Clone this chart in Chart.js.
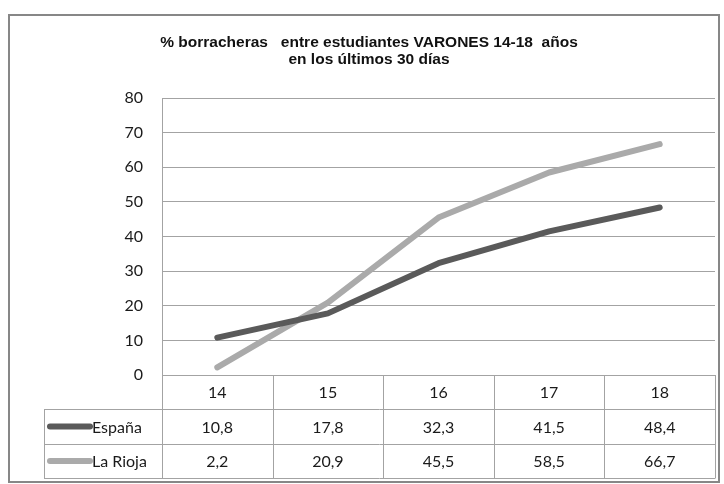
<!DOCTYPE html>
<html lang="es">
<head>
  <meta charset="UTF-8">
  <title>% borracheras entre estudiantes VARONES 14-18 años</title>
  <script src="https://cdn.jsdelivr.net/npm/chart.js"></script>
  <style>
    html, body { margin: 0; padding: 0; background: #fff; }
  </style>
</head>
<body>
  <canvas id="chart" width="724" height="484"></canvas>

  <script>
    // data
    const edades = ['14', '15', '16', '17', '18'];
    const espana = [10.8, 17.8, 32.3, 41.5, 48.4];
    const laRioja = [2.2, 20.9, 45.5, 58.5, 66.7];
    const titulo = ['% borracheras   entre estudiantes VARONES 14-18  años', 'en los últimos 30 días'];

    const gridColor = '#a3a3a3';
    const textFont = '16px Lato, "Open Sans", sans-serif';

    const fmt = v => v.toFixed(1).replace('.', ',');

    // outer frame of the chart
    const framePlugin = {
      id: 'frame',
      beforeDraw(chart) {
        const ctx = chart.ctx;
        ctx.save();
        ctx.strokeStyle = '#878787';
        ctx.lineWidth = 2;
        ctx.strokeRect(9, 15, 710, 467);
        ctx.restore();
      }
    };

    // data table under the plot, aligned to the x scale
    const tablePlugin = {
      id: 'dataTable',
      afterDraw(chart) {
        const ctx = chart.ctx;
        const x = chart.scales.x;
        const area = chart.chartArea;
        const top = area.bottom;
        const rowH = 34.4;
        const colW = x.getPixelForValue(1) - x.getPixelForValue(0);
        const tableLeft = 44;
        const rows = [
          { label: 'España', color: chart.data.datasets[0].borderColor, values: chart.data.datasets[0].data },
          { label: 'La Rioja', color: chart.data.datasets[1].borderColor, values: chart.data.datasets[1].data }
        ];

        ctx.save();
        ctx.strokeStyle = gridColor;
        ctx.lineWidth = 1;

        // horizontal rules
        for (let r = 1; r <= rows.length + 1; r++) {
          const y = Math.round(top + r * rowH) + 0.5;
          ctx.beginPath();
          ctx.moveTo(tableLeft, y);
          ctx.lineTo(area.right, y);
          ctx.stroke();
        }
        // vertical rules
        const bottom = Math.round(top + (rows.length + 1) * rowH) + 0.5;
        for (let i = 0; i <= edades.length; i++) {
          const xx = Math.round(x.getPixelForValue(i) - colW / 2) + 0.5;
          ctx.beginPath();
          ctx.moveTo(xx, top);
          ctx.lineTo(xx, bottom);
          ctx.stroke();
        }
        ctx.beginPath();
        ctx.moveTo(tableLeft + 0.5, Math.round(top + rowH) + 0.5);
        ctx.lineTo(tableLeft + 0.5, bottom);
        ctx.stroke();

        ctx.font = textFont;
        ctx.fillStyle = '#1a1a1a';
        ctx.textBaseline = 'middle';
        ctx.textAlign = 'center';

        // header row: categories
        edades.forEach((e, i) => {
          ctx.fillText(e, x.getPixelForValue(i), top + rowH / 2 + 1);
        });

        // series rows
        rows.forEach((row, r) => {
          const cy = top + rowH * (r + 1.5) + 1;
          ctx.textAlign = 'center';
          row.values.forEach((v, i) => {
            ctx.fillText(fmt(v), x.getPixelForValue(i), cy);
          });
          // legend key
          ctx.strokeStyle = row.color;
          ctx.lineWidth = 6;
          ctx.lineCap = 'round';
          ctx.beginPath();
          ctx.moveTo(tableLeft + 6, cy - 1);
          ctx.lineTo(tableLeft + 46, cy - 1);
          ctx.stroke();
          ctx.textAlign = 'left';
          ctx.fillText(row.label, tableLeft + 48, cy);
        });
        ctx.restore();
      }
    };

    new Chart(document.getElementById('chart'), {
      type: 'line',
      data: {
        labels: edades,
        datasets: [
          {
            label: 'España',
            data: espana,
            borderColor: '#5a5a5a',
            borderWidth: 6,
            borderCapStyle: 'round',
            borderJoinStyle: 'round',
            pointRadius: 0,
            tension: 0
          },
          {
            label: 'La Rioja',
            data: laRioja,
            borderColor: '#aaaaaa',
            borderWidth: 6,
            borderCapStyle: 'round',
            borderJoinStyle: 'round',
            pointRadius: 0,
            tension: 0
          }
        ]
      },
      options: {
        responsive: false,
        animation: false,
        layout: { padding: { top: 0, right: 9, bottom: 0, left: 23 } },
        plugins: {
          legend: { display: false },
          tooltip: { enabled: false },
          title: {
            display: true,
            text: titulo,
            color: '#111',
            font: { family: '"Liberation Sans Narrow", "Liberation Sans", Arial, sans-serif', size: 15.5, weight: 'bold', lineHeight: 1.1 },
            padding: { top: 34, bottom: 30 }
          }
        },
        scales: {
          x: {
            offset: true,
            grid: { display: false },
            border: { display: true, color: gridColor, width: 1 },
            ticks: { display: false },
            afterFit(scale) { scale.height = 109; }
          },
          y: {
            min: 0,
            max: 80,
            ticks: {
              stepSize: 10,
              padding: 19,
              color: '#1a1a1a',
              font: { family: 'Lato, "Open Sans", sans-serif', size: 16 }
            },
            grid: { color: gridColor, drawTicks: false },
            border: { display: true, color: gridColor, width: 1 },
            afterFit(scale) { scale.width = 139; }
          }
        }
      },
      plugins: [framePlugin, tablePlugin]
    });
  </script>
</body>
</html>
